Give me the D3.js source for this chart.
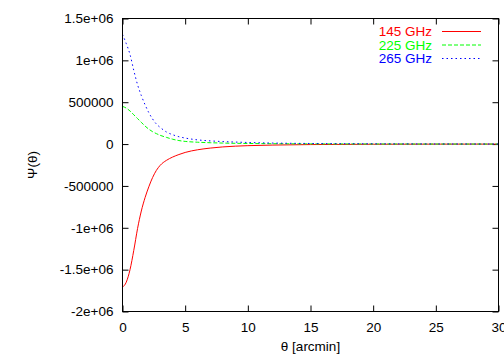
<!DOCTYPE html>
<html>
<head>
<meta charset="utf-8">
<script src="https://cdn.jsdelivr.net/npm/d3@7/dist/d3.min.js"></script>
<style>
  html, body { margin: 0; padding: 0; background: #fff; }
  svg { display: block; }
  text { font-family: "Liberation Sans", Arial, Helvetica, sans-serif; }
</style>
</head>
<body>
<svg id="chart" width="504" height="355"></svg>
<script>
// Angular profiles Ψ(θ) at three frequencies, θ in arcmin
const theta145 = [0, 0.3, 0.6, 0.9, 1.2, 1.5, 1.8, 2.1, 2.4, 2.7, 3.0, 3.5, 4.0, 4.5, 5.0, 6.0, 7.0, 8.0, 9.0, 10, 12, 15, 20, 25, 30];
const psi145 = [-1710000, -1650000, -1500000, -1270000, -1010000, -800000, -640000, -510000, -400000, -315000, -255000, -195000, -155000, -125000, -100000, -68000, -48000, -34000, -25000, -19000, -12000, -6000, -2000, -800, -300];

const theta225 = [0, 0.3, 0.6, 0.9, 1.2, 1.5, 1.8, 2.1, 2.4, 2.7, 3.0, 3.5, 4.0, 4.5, 5.0, 6.0, 7.0, 8.0, 10, 12, 15, 20, 25, 30];
const psi225 = [450000, 430000, 395000, 350000, 305000, 260000, 215000, 178000, 148000, 125000, 105000, 80000, 58000, 42000, 32000, 22000, 16000, 12000, 7000, 4500, 2500, 1000, 400, 200];

const theta265 = [0, 0.3, 0.6, 0.9, 1.2, 1.5, 1.8, 2.1, 2.4, 2.7, 3.0, 3.5, 4.0, 4.5, 5.0, 6.0, 7.0, 8.0, 9.0, 10, 12, 15, 20, 25, 30];
const psi265 = [1310000, 1200000, 1070000, 880000, 710000, 580000, 470000, 375000, 300000, 240000, 200000, 145000, 112000, 88000, 72000, 50000, 38000, 30000, 24000, 19000, 12000, 7000, 3000, 1200, 500];

const seriesNames = ["145 GHz", "225 GHz", "265 GHz"];
const seriesColors = ["#ff0000", "#00ff00", "#0000ff"];
const seriesDash = [null, "4,2", "1.5,3"];

const xTicks = [0, 5, 10, 15, 20, 25, 30];
const yTicks = [-2000000, -1500000, -1000000, -500000, 0, 500000, 1000000, 1500000];
const yTickLabels = ["-2e+06", "-1.5e+06", "-1e+06", "-500000", "0", "500000", "1e+06", "1.5e+06"];

const svg = d3.select("#chart");
const L = 122.5, R = 498.5, T = 18.5, B = 311.5;

const x = d3.scaleLinear().domain([0, 30]).range([L, R]);
const y = d3.scaleLinear().domain([-2000000, 1500000]).range([B, T]);

const fontSize = "13.5px";

// axes with inward ticks on all four sides
const axBottom = svg.append("g").attr("transform", `translate(0,${B})`)
  .call(d3.axisBottom(x).tickValues(xTicks).tickSizeInner(-6).tickSizeOuter(0).tickPadding(11).tickFormat(d3.format("d")));
const axTop = svg.append("g").attr("transform", `translate(0,${T})`)
  .call(d3.axisTop(x).tickValues(xTicks).tickSizeInner(-6).tickSizeOuter(0).tickFormat(""));
const axLeft = svg.append("g").attr("transform", `translate(${L},0)`)
  .call(d3.axisLeft(y).tickValues(yTicks).tickSizeInner(-6).tickSizeOuter(0).tickPadding(9)
    .tickFormat((d, i) => yTickLabels[i]));
const axRight = svg.append("g").attr("transform", `translate(${R},0)`)
  .call(d3.axisRight(y).tickValues(yTicks).tickSizeInner(-6).tickSizeOuter(0).tickFormat(""));

[axBottom, axTop, axLeft, axRight].forEach(g => {
  g.select(".domain").remove();
  g.selectAll(".tick line").attr("stroke", "#000").attr("stroke-width", 1);
  g.selectAll(".tick text").attr("fill", "#000").style("font-size", fontSize)
    .style("font-family", '"Liberation Sans", Arial, sans-serif');
});

// series curves
const line = d3.line().x(d => x(d[0])).y(d => y(d[1])).curve(d3.curveMonotoneX);
const series = [
  d3.zip(theta145, psi145),
  d3.zip(theta225, psi225),
  d3.zip(theta265, psi265)
];
svg.append("clipPath").attr("id", "plotclip")
  .append("rect").attr("x", L).attr("y", T).attr("width", R - L).attr("height", B - T);
series.forEach((s, i) => {
  svg.append("path")
    .attr("d", line(s))
    .attr("fill", "none")
    .attr("stroke", seriesColors[i])
    .attr("stroke-width", 1)
    .attr("stroke-dasharray", seriesDash[i])
    .attr("clip-path", "url(#plotclip)");
});

// frame
svg.append("rect").attr("x", L).attr("y", T).attr("width", R - L).attr("height", B - T)
  .attr("fill", "none").attr("stroke", "#000").attr("stroke-width", 1);

// legend
const legY = [36, 49.5, 63];
seriesNames.forEach((name, i) => {
  svg.append("text").attr("x", 432).attr("y", legY[i]).attr("text-anchor", "end")
    .style("font-size", fontSize).attr("fill", seriesColors[i]).text(name);
  svg.append("line").attr("x1", 442).attr("x2", 481)
    .attr("y1", legY[i] - 4.5).attr("y2", legY[i] - 4.5)
    .attr("stroke", seriesColors[i]).attr("stroke-width", 1)
    .attr("stroke-dasharray", seriesDash[i]);
});

// axis titles
svg.append("text").attr("x", (L + R) / 2).attr("y", 351).attr("text-anchor", "middle")
  .style("font-size", fontSize).attr("fill", "#000").text("θ [arcmin]");
svg.append("text").attr("transform", `translate(37,${(T + B) / 2}) rotate(-90)`)
  .attr("text-anchor", "middle").style("font-size", fontSize).attr("fill", "#000").text("Ψ(θ)");
</script>
</body>
</html>
